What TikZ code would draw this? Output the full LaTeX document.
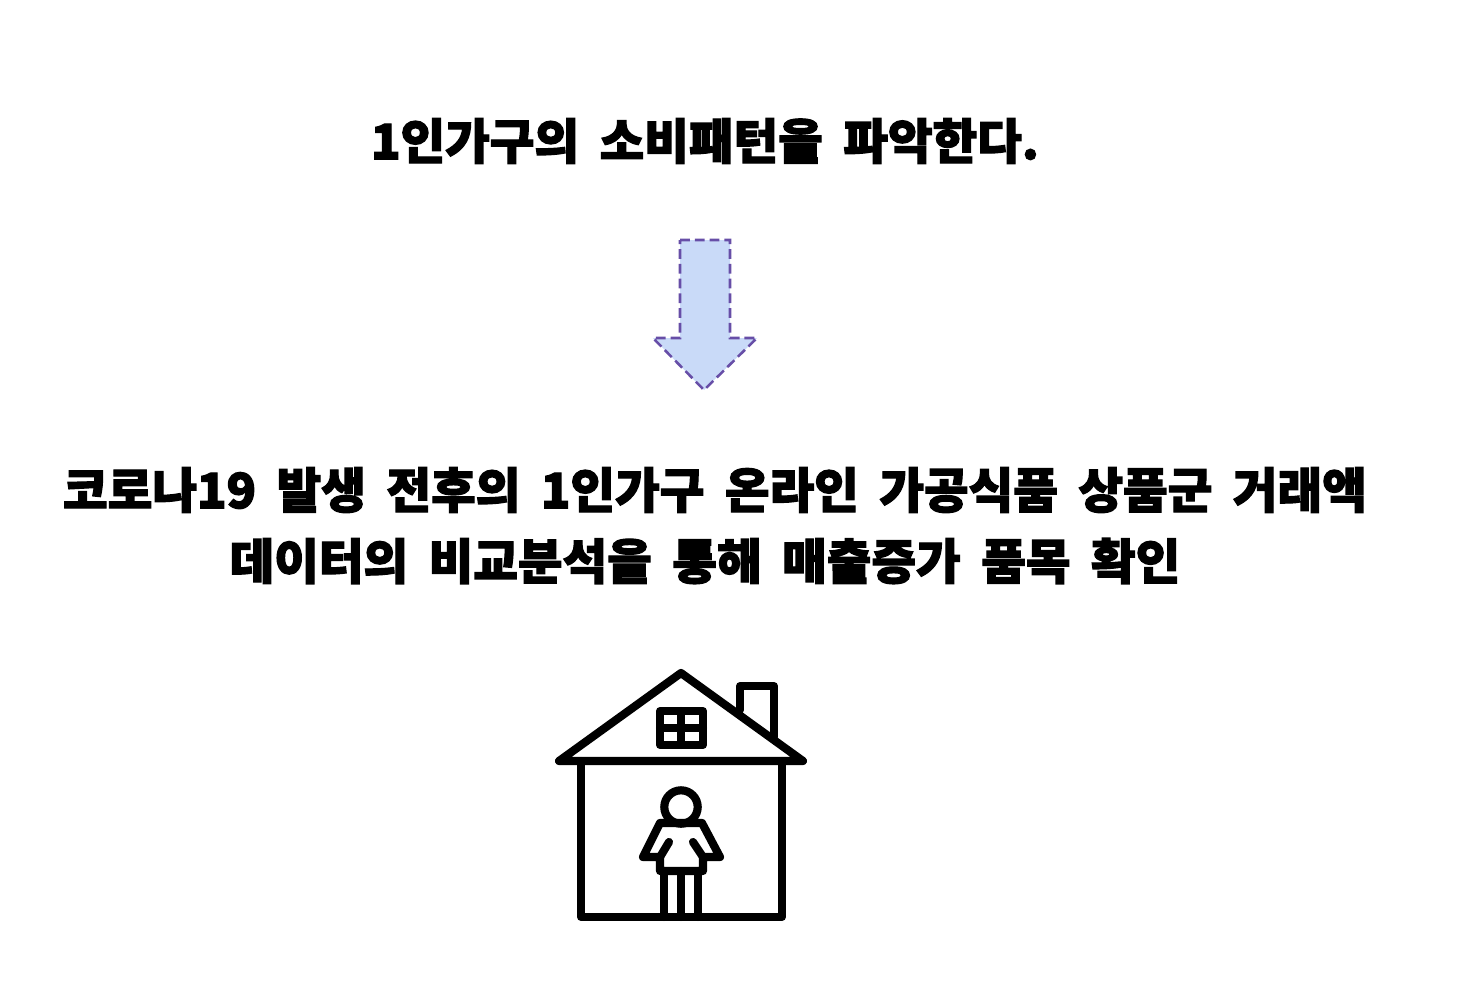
\documentclass[tikz,border=0pt]{standalone}
\usepackage{fontspec}
\newfontfamily\kofont[FakeBold=2.5, WordSpace=1.85]{Noto Sans CJK KR Black}
\definecolor{arrowfill}{HTML}{C9DAF8}
\definecolor{arrowline}{HTML}{674EA7}
\tikzset{
  headline/.style={font=\kofont\fontsize{34.5}{40}\selectfont, inner sep=0pt},
  blockarrow/.style={draw=arrowline, fill=arrowfill, line width=1.8pt, dash pattern=on 7pt off 3.5pt},
  icon/.style={line width=5.8pt, line join=round, line cap=round}
}
\begin{document}
\begin{tikzpicture}[x=0.025cm, y=-0.025cm]
\useasboundingbox (0, 0) rectangle (1476, 1006);

\node[headline] (goal) at (705, 141) {1인가구의 소비패턴을 파악한다.};

\draw[blockarrow] (680, 240) -- (730, 240) -- (730, 338) -- (757, 338) -- (704, 390) -- (653, 338) -- (680, 338) -- cycle;

\node[headline] (methodA) at (715, 490) {코로나19 발생 전후의 1인가구 온라인 가공식품 상품군 거래액};
\node[headline] (methodB) at (705, 561) {데이터의 비교분석을 통해 매출증가 품목 확인};

% house
\draw[icon] (559, 761) -- (681, 673) -- (803, 761) -- cycle;
\draw[icon] (581, 761) -- (581, 917) -- (782, 917) -- (782, 761);
\draw[icon] (740, 710) -- (740, 686) -- (774, 686) -- (774, 737);
\draw[icon] (660, 711) rectangle (703, 745);
\draw[icon] (681, 711) -- (681, 745);
\draw[icon] (660, 728) -- (703, 728);

% person
\draw[icon] (681, 807) circle (16.7);
\draw[icon] (660, 823) -- (702, 823) -- (720, 857) -- (703, 857) -- (703, 871) -- (660, 871) -- (660, 857) -- (643, 857) -- cycle;
\draw[icon] (669, 842) -- (660, 857);
\draw[icon] (693, 842) -- (703, 857);
\draw[icon] (664, 871) -- (664, 917);
\draw[icon] (681, 871) -- (681, 917);
\draw[icon] (698, 871) -- (698, 917);
\end{tikzpicture}
\end{document}
